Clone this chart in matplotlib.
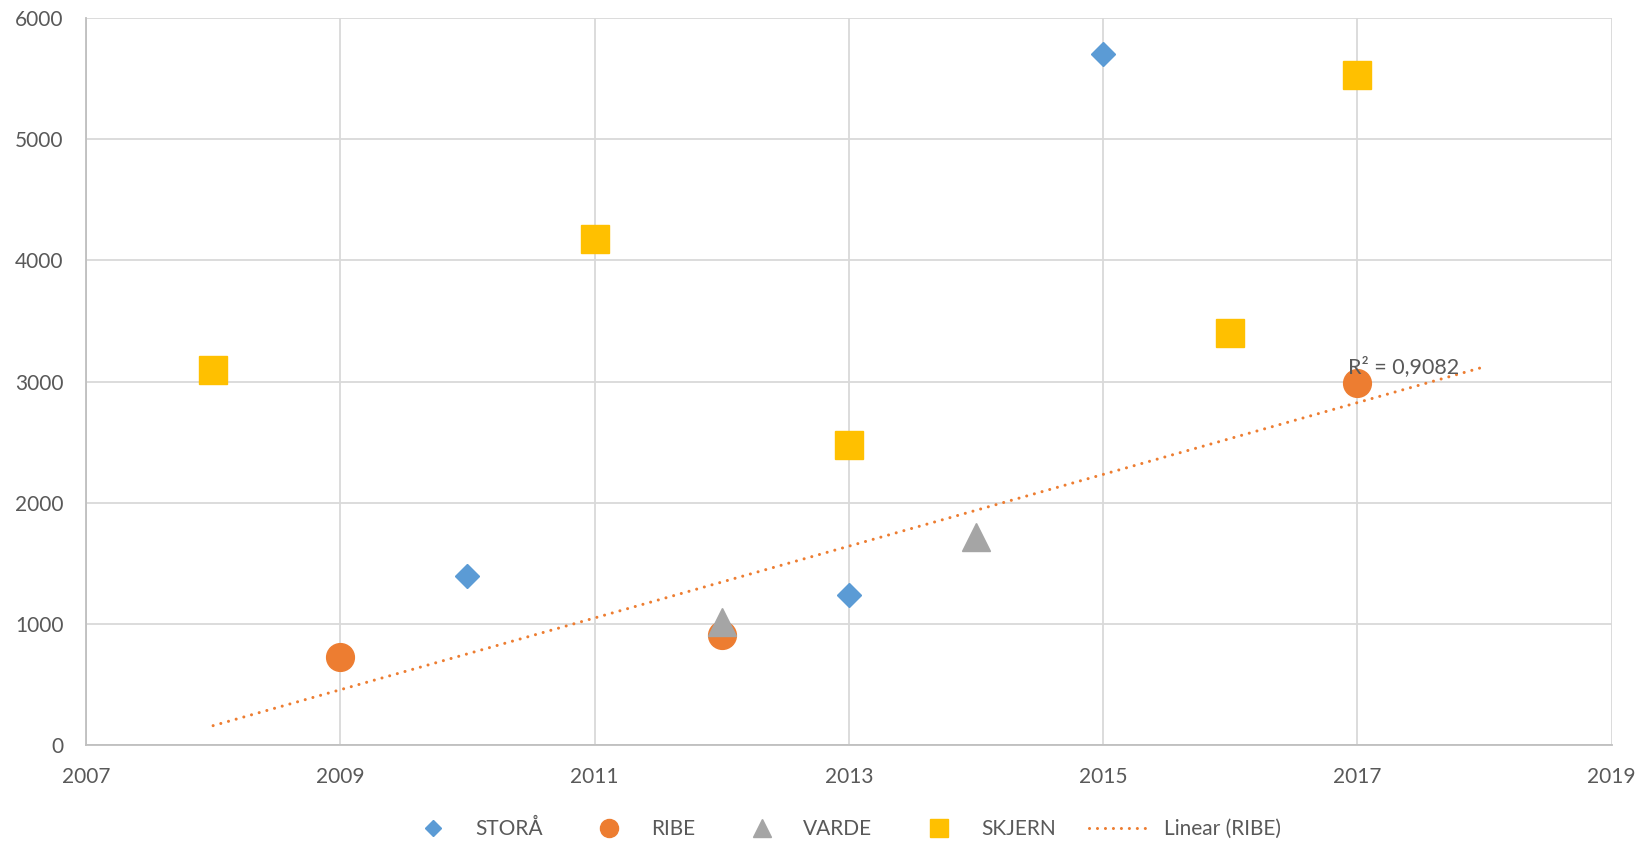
import numpy as np
import matplotlib
matplotlib.use("Agg")
import matplotlib.pyplot as plt
from matplotlib.legend_handler import HandlerLine2D

plt.rcParams['font.family'] = ['Lato', 'DejaVu Sans']

stora_x = [2010, 2013, 2015]
stora_y = [1400, 1240, 5700]
ribe_x = [2009, 2012, 2017]
ribe_y = [730, 910, 2990]
varde_x = [2012, 2014]
varde_y = [1020, 1720]
skjern_x = [2008, 2011, 2013, 2016, 2017]
skjern_y = [3100, 4180, 2480, 3400, 5530]

x_ticks = [2007, 2009, 2011, 2013, 2015, 2017, 2019]
y_ticks = [0, 1000, 2000, 3000, 4000, 5000, 6000]
trend_range = [2008, 2018]
r2_label = 'R² = 0,9082'

fig = plt.figure(figsize=(16.44, 8.43), dpi=100)
ax = fig.add_axes([0.0523, 0.116, 0.928, 0.8626])

label_col = '#595959'
ax.plot(stora_x, stora_y, 'D', ms=12.5, color='#5B9BD5', mec='#5B9BD5', label='STORÅ', zorder=3)
ax.plot(ribe_x, ribe_y, 'o', ms=20, color='#ED7D31', mec='#ED7D31', label='RIBE', zorder=3)
ax.plot(varde_x, varde_y, '^', ms=20.5, color='#A5A5A5', mec='#A5A5A5', label='VARDE', zorder=4)
ax.plot(skjern_x, skjern_y, 's', ms=20.5, color='#FFC000', mec='#FFC000', label='SKJERN', zorder=3)

coef = np.polyfit(ribe_x, ribe_y, 1)
tx = np.array(trend_range, dtype=float)
ty = np.polyval(coef, tx)
trend, = ax.plot(tx, ty, color='#ED7D31', lw=2.2, linestyle=(0, (0.01, 2.6)),
                 dash_capstyle='round', label='Linear (RIBE)', zorder=5)
ax.text(2016.93, 3120, r2_label, fontsize=15.5,
        color=label_col, va='center', ha='left', zorder=6)

ax.set_xlim(2007, 2019)
ax.set_ylim(0, 6000)
ax.set_xticks(x_ticks)
ax.set_yticks(y_ticks)
ax.grid(True, color='#d9d9d9', lw=1.3)
ax.set_axisbelow(True)
for s in ['top', 'right']:
    ax.spines[s].set_visible(False)
for s in ['left', 'bottom']:
    ax.spines[s].set_color('#bfbfbf')
    ax.spines[s].set_linewidth(1.3)
ax.tick_params(length=0, labelsize=15, colors=label_col)
ax.tick_params(axis='y', pad=16)
ax.tick_params(axis='x', pad=16)


class LongLine(HandlerLine2D):
    def get_xdata(self, legend, xdescent, ydescent, width, height, fontsize):
        x = np.array([-xdescent + width - 39.0, -xdescent + width + 5.0])
        return x, x


leg = fig.legend(loc='center', bbox_to_anchor=(0.515, 0.0165), ncol=5, frameon=False,
                 fontsize=15, labelcolor=label_col, columnspacing=2.2, handletextpad=1.0,
                 handlelength=2.0, markerscale=0.65,
                 handler_map={trend: LongLine()})
fig.savefig('out.png', dpi=100)
